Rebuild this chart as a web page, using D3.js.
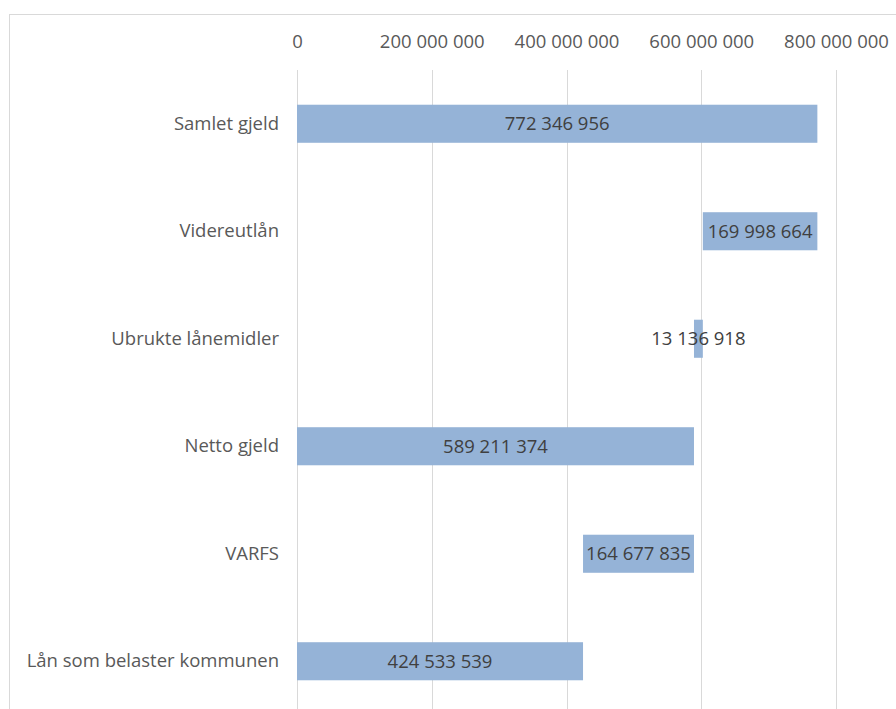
<!DOCTYPE html>
<html>
<head>
<meta charset="utf-8">
<script src="https://cdn.jsdelivr.net/npm/d3@7"></script>
<style>
  body { margin: 0; background: #fff; }
  svg { display: block; font-family: 'Open Sans', sans-serif; }
</style>
</head>
<body>
<div id="graph"></div>
<script>
const categories = ['Samlet gjeld', 'Videreutlån', 'Ubrukte lånemidler', 'Netto gjeld', 'VARFS', 'Lån som belaster kommunen'];
const values = [772346956, 169998664, 13136918, 589211374, 164677835, 424533539];
// where each floating bar starts (waterfall)
const starts = [0, 602348292, 589211374, 0, 424533539, 0];
const tickValues = [0, 200000000, 400000000, 600000000, 800000000];

const canvasWidth = 896;
const canvasHeight = 709;
const margins = { top: 70, right: 60, bottom: -6, left: 297 };
const fmt = v => d3.format(',')(v).replace(/,/g, ' ');

const svg = d3.select('#graph')
  .append('svg')
    .attr('width', canvasWidth)
    .attr('height', canvasHeight);

// chart frame
svg.append('rect')
  .attr('x', 9.5)
  .attr('y', 14.5)
  .attr('width', 900)
  .attr('height', 720)
  .attr('fill', 'none')
  .attr('stroke', '#d9d9d9');

const scaleX = d3.scaleLinear()
  .domain([0, 800000000])
  .range([margins.left, 836]);

const scaleY = d3.scaleBand()
  .domain(categories)
  .range([70, 715])
  .paddingInner(0.646)
  .paddingOuter(0.323);

// gridlines
svg.append('g')
  .selectAll('line')
  .data(tickValues)
  .join('line')
    .attr('x1', d => Math.round(scaleX(d)) + 0.5)
    .attr('x2', d => Math.round(scaleX(d)) + 0.5)
    .attr('y1', margins.top)
    .attr('y2', canvasHeight)
    .attr('stroke', '#d9d9d9')
    .attr('stroke-width', 1);

// top axis labels
const axisX = d3.axisTop(scaleX)
  .tickValues(tickValues)
  .tickFormat(fmt)
  .tickSize(0)
  .tickPadding(0);

svg.append('g')
  .attr('transform', 'translate(0, 48)')
  .call(axisX)
  .call(g => g.select('.domain').remove())
  .call(g => g.selectAll('text')
    .attr('font-family', "'Open Sans', sans-serif")
    .attr('font-size', 18.5)
    .attr('fill', '#595959')
    .attr('dy', 0));

// category labels
const axisY = d3.axisLeft(scaleY)
  .tickSize(0)
  .tickPadding(18);

svg.append('g')
  .attr('transform', `translate(${margins.left}, 0)`)
  .call(axisY)
  .call(g => g.select('.domain').remove())
  .call(g => g.selectAll('text')
    .attr('font-family', "'Open Sans', sans-serif")
    .attr('font-size', 18.5)
    .attr('fill', '#595959'));

const rows = categories.map((c, i) => ({ name: c, value: values[i], start: starts[i] }));

// bars
svg.append('g')
  .selectAll('rect')
  .data(rows)
  .join('rect')
    .attr('x', d => scaleX(d.start))
    .attr('y', d => scaleY(d.name))
    .attr('width', d => scaleX(d.start + d.value) - scaleX(d.start))
    .attr('height', scaleY.bandwidth())
    .attr('fill', '#95b3d7');

// value labels
svg.append('g')
  .selectAll('text')
  .data(rows)
  .join('text')
    .attr('x', d => scaleX(d.start + d.value / 2))
    .attr('y', d => scaleY(d.name) + scaleY.bandwidth() / 2)
    .attr('dy', '0.35em')
    .attr('text-anchor', 'middle')
    .attr('font-size', 18.5)
    .attr('fill', '#404040')
    .text(d => fmt(d.value));
</script>
</body>
</html>
